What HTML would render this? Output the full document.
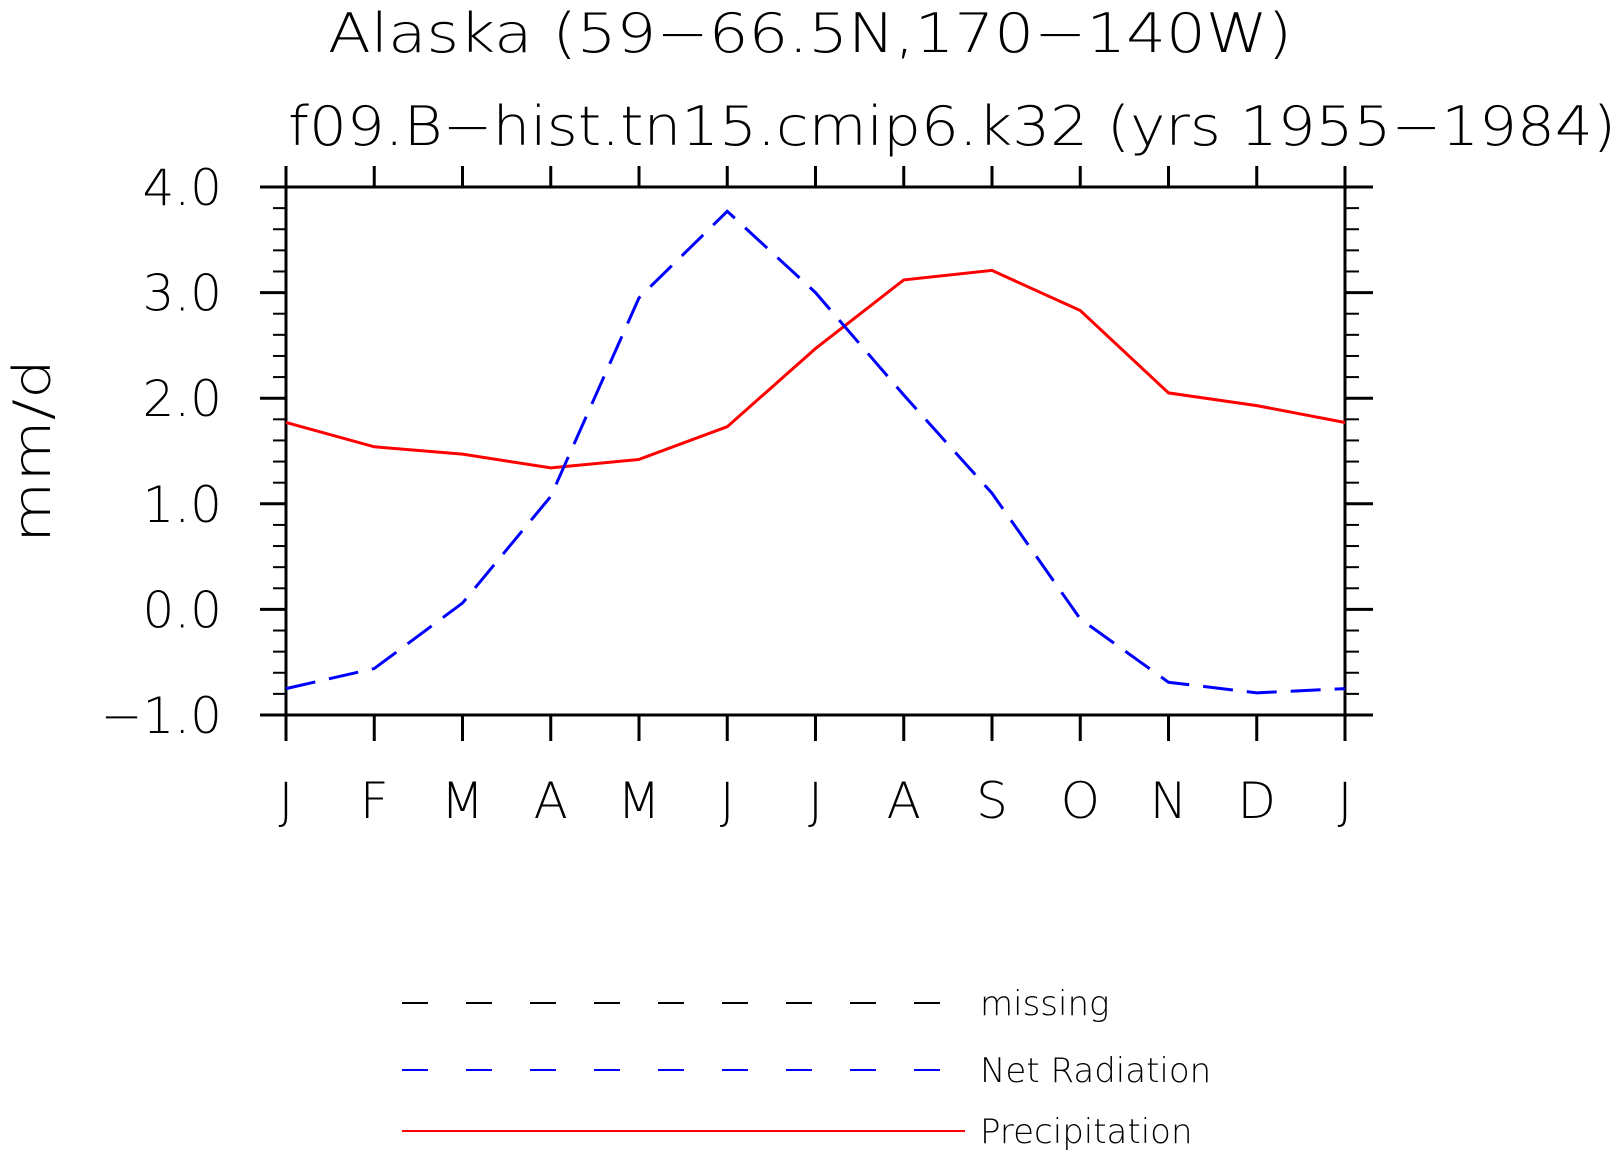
<!DOCTYPE html>
<html><head><meta charset="utf-8"><style>
html,body{margin:0;padding:0;background:#fff;}
svg{display:block;font-family:"DejaVu Sans","Liberation Sans",sans-serif;font-weight:200;}
</style></head><body>
<svg id="chart" width="1618" height="1152" viewBox="0 0 1618 1152">
<text x="810" y="52" font-size="54" text-anchor="middle" textLength="964" lengthAdjust="spacingAndGlyphs" font-weight="200">Alaska (59−66.5N,170−140W)</text>
<text x="952" y="145" font-size="54" text-anchor="middle" textLength="1328" lengthAdjust="spacingAndGlyphs" font-weight="200">f09.B−hist.tn15.cmip6.k32 (yrs 1955−1984)</text>
<text transform="translate(50,451) rotate(-90)" font-size="52" text-anchor="middle" textLength="184" lengthAdjust="spacingAndGlyphs" font-weight="200">mm/d</text>
<g id="axes"></g>
<g id="series"></g>
<g id="legend"></g>
</svg>
<script>
const months = ["J","F","M","A","M","J","J","A","S","O","N","D","J"];
const precipitation = [1.77,1.54,1.47,1.34,1.42,1.73,2.47,3.12,3.21,2.83,2.05,1.93,1.77];
const netRadiation = [-0.75,-0.56,0.06,1.07,2.95,3.77,3.0,2.03,1.10,-0.09,-0.69,-0.79,-0.75];
const yTicks = [-1,0,1,2,3,4];
const yTickLabels = ["−1.0","0.0","1.0","2.0","3.0","4.0"];
const legendLabels = ["missing","Net Radiation","Precipitation"];

const NS="http://www.w3.org/2000/svg";
const L=286,R=1345,T=187,B=715,YMIN=-1,YMAX=4;
const xS=i=>L+(R-L)*i/(months.length-1);
const yS=v=>B-(B-T)*(v-YMIN)/(YMAX-YMIN);
function mk(tag,attrs,parent){const e=document.createElementNS(NS,tag);for(const k in attrs)e.setAttribute(k,attrs[k]);parent.appendChild(e);return e;}
const axes=document.getElementById('axes');
const frame=mk('rect',{x:L,y:T,width:R-L,height:B-T,fill:'none',stroke:'#000','stroke-width':3},axes);


yTicks.forEach((v,i)=>{
  const y=yS(v);
  const t1=mk('line',{x1:L-26,x2:L,y1:y,y2:y,stroke:'#000','stroke-width':3},axes);
  
  
  const t2=mk('line',{x1:R,x2:R+28,y1:y,y2:y,stroke:'#000','stroke-width':3},axes);
  
  
  const tx=mk('text',{x:222,y:y+18,'font-size':50,'text-anchor':'end'},axes);
  tx.textContent=yTickLabels[i];
  
  
  if(i<yTicks.length-1){
    for(let m=1;m<5;m++){
      const ym=yS(v+m*0.2);
      const a=mk('line',{x1:L-13,x2:L,y1:ym,y2:ym,stroke:'#000','stroke-width':2},axes);
      
      
      const b=mk('line',{x1:R,x2:R+14,y1:ym,y2:ym,stroke:'#000','stroke-width':2},axes);
      
      
    }
  }
});
months.forEach((m,i)=>{
  const x=xS(i);
  const a=mk('line',{x1:x,x2:x,y1:T-21,y2:T,stroke:'#000','stroke-width':3},axes);
  
  
  const b=mk('line',{x1:x,x2:x,y1:B,y2:B+26,stroke:'#000','stroke-width':3},axes);
  
  
  const t=mk('text',{x:x,y:818,'font-size':50,'text-anchor':'middle'},axes);
  t.textContent=m;
  
  
});
const series=document.getElementById('series');
const pts=arr=>arr.map((v,i)=>xS(i)+','+yS(v)).join(' ');
const pr=mk('polyline',{points:pts(precipitation),fill:'none',stroke:'#ff0000','stroke-width':3},series);


const nr=mk('polyline',{points:pts(netRadiation),fill:'none',stroke:'#0000ff','stroke-width':3,'stroke-dasharray':'30 14'},series);


const lg=document.getElementById('legend');
const lys=[1003,1070,1131];
const styles=[{stroke:'#000',dash:'26 38',x2:941},{stroke:'#0000ff',dash:'26 38',x2:941},{stroke:'#ff0000',dash:'none',x2:965}];
legendLabels.forEach((lab,i)=>{
  const s=styles[i];
  const ln=mk('line',{x1:402,x2:s.x2,y1:lys[i],y2:lys[i],stroke:s.stroke,'stroke-width':2,'stroke-dasharray':s.dash},lg);
  
  
  const t=mk('text',{x:980,y:lys[i]+12,'font-size':34},lg);
  t.textContent=lab;
  
  
});
</script>
</body></html>
